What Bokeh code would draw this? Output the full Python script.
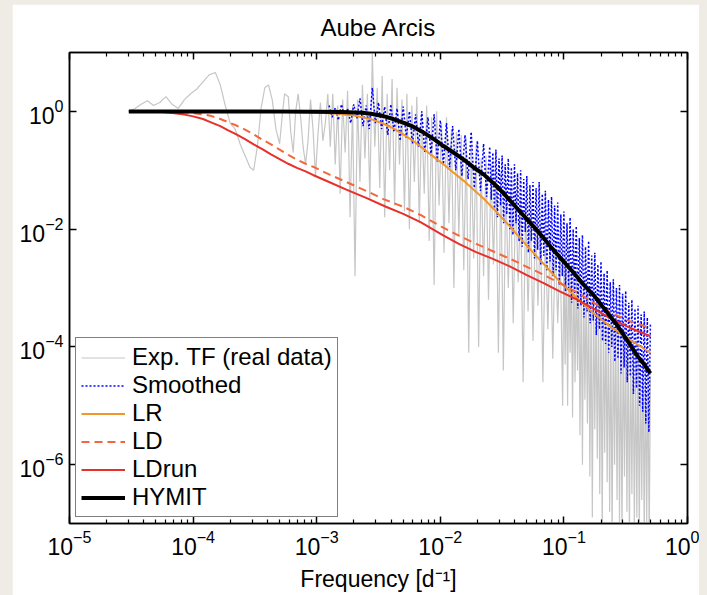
import numpy as np
from bokeh.plotting import figure
from bokeh.models import (FixedTicker, LogAxis, Legend, LegendItem, Range1d,
                          CustomJSTickFormatter)
from bokeh.embed import file_html
from bokeh.resources import INLINE

# ---------------- data (log10 frequency [1/d], log10 transfer function) ----------------
title_text = "Aube Arcis"
x_label = "Frequency [d\u207b\u00b9]"
x_tick_values = [1e-5, 1e-4, 1e-3, 1e-2, 1e-1, 1e0]
y_tick_values = [1e-6, 1e-4, 1e-2, 1e0]
series_names = ["Exp. TF (real data)", "Smoothed", "LR", "LD", "LDrun", "HYMIT"]

exp_tf = [
    (-4.52, 0.0), (-4.47, 0.05), (-4.42, 0.12), (-4.37, 0.18), (-4.32, 0.1), (-4.27, 0.15),
    (-4.22, 0.25), (-4.17, 0.12), (-4.12, 0.05), (-4.07, 0.2), (-4.02, 0.3), (-3.97, 0.38),
    (-3.92, 0.5), (-3.87, 0.62), (-3.82, 0.66), (-3.78, 0.45), (-3.74, 0.1), (-3.70, -0.2),
    (-3.66, -0.3), (-3.62, -0.55), (-3.58, -0.75), (-3.54, -0.95), (-3.51, -1.0), (-3.48, -0.6),
    (-3.45, 0.05), (-3.42, 0.4), (-3.39, 0.45), (-3.36, 0.2), (-3.33, -0.3), (-3.30, -0.55),
    (-3.28, -0.1), (-3.26, 0.3), (-3.23, 0.25), (-3.21, -0.35), (-3.19, -0.7), (-3.17, 0.0),
    (-3.15, 0.3), (-3.13, -0.1), (-3.11, -0.6), (-3.09, -0.9), (-3.07, -0.5), (-3.05, 0.2),
    (-3.03, -0.3), (-3.01, -1.1), (-2.99, -0.4), (-2.97, 0.15), (-2.95, -0.5), (-2.93, -0.2),
    (-2.91, 0.3), (-2.89, -0.6),
    (-2.87, 0.3), (-2.85, -0.9), (-2.83, 0.1), (-2.81, -1.4), (-2.79, 0.2), (-2.77, -0.7),
    (-2.75, 0.35), (-2.73, -1.8), (-2.71, 0.1), (-2.69, -2.8), (-2.67, 0.2), (-2.65, -1.2),
    (-2.63, 0.45), (-2.61, -0.8), (-2.59, 0.3), (-2.57, -1.5), (-2.55, 1.0), (-2.53, -0.6),
    (-2.51, 0.4), (-2.49, -1.3), (-2.47, 0.6), (-2.45, -1.8), (-2.43, 0.3), (-2.41, -1.0),
    (-2.39, 0.55), (-2.37, -1.6), (-2.35, 0.4), (-2.33, -0.9), (-2.31, 0.2), (-2.29, -1.7),
    (-2.27, 0.3), (-2.25, -2.0), (-2.23, 0.1), (-2.21, -1.2), (-2.19, 0.25), (-2.17, -1.9),
    (-2.15, 0.0), (-2.13, -1.4), (-2.11, 0.1), (-2.09, -2.2), (-2.07, -0.1), (-2.05, -2.95),
    (-2.03, 0.0), (-2.01, -1.6), (-1.99, -0.2), (-1.97, -2.4), (-1.95, -0.1), (-1.93, -1.9),
    (-1.91, -0.3), (-1.89, -3.0), (-1.87, -0.35), (-1.85, -2.1), (-1.83, -0.4), (-1.81, -2.7),
    (-1.79, -0.45), (-1.77, -4.1), (-1.75, -0.6), (-1.73, -2.5), (-1.71, -0.55), (-1.69, -4.0),
    (-1.67, -0.8), (-1.65, -2.8), (-1.63, -0.75), (-1.61, -3.2), (-1.59, -0.9), (-1.57, -2.6),
    (-1.55, -1.0), (-1.53, -4.1), (-1.51, -1.05), (-1.49, -4.4), (-1.47, -1.2), (-1.45, -3.0),
    (-1.43, -1.3), (-1.41, -3.6), (-1.39, -1.35), (-1.37, -2.9), (-1.35, -1.5), (-1.33, -4.6),
    (-1.31, -1.55), (-1.29, -3.4), (-1.27, -1.7), (-1.25, -3.9), (-1.23, -1.75), (-1.21, -3.3),
    (-1.19, -1.9), (-1.17, -4.6), (-1.15, -2.0), (-1.13, -3.7), (-1.11, -2.05), (-1.09, -4.2),
    (-1.07, -2.2), (-1.05, -3.6), (-1.03, -2.3), (-1.01, -5.0),
    (-1.00, -2.4), (-0.99, -4.3), (-0.98, -2.5), (-0.97, -5.0), (-0.96, -2.3), (-0.95, -4.1),
    (-0.94, -2.6), (-0.93, -5.2), (-0.92, -2.5), (-0.91, -4.6), (-0.90, -2.8), (-0.89, -4.4),
    (-0.88, -2.7), (-0.87, -5.5), (-0.86, -2.9), (-0.85, -6.0), (-0.84, -2.8), (-0.83, -4.9),
    (-0.82, -3.1), (-0.81, -5.3), (-0.80, -3.0), (-0.79, -6.2), (-0.78, -3.2), (-0.77, -6.9),
    (-0.76, -3.1), (-0.75, -5.4), (-0.74, -3.3), (-0.73, -5.9), (-0.72, -3.2), (-0.71, -6.5),
    (-0.70, -3.4), (-0.69, -7.2), (-0.68, -3.3), (-0.67, -5.8), (-0.66, -3.5), (-0.65, -6.3),
    (-0.64, -3.4), (-0.63, -6.8), (-0.62, -3.6), (-0.61, -7.3), (-0.60, -3.5), (-0.59, -6.0),
    (-0.58, -3.7), (-0.57, -6.6), (-0.56, -3.6), (-0.55, -7.0), (-0.54, -3.8), (-0.53, -7.2),
    (-0.52, -3.7), (-0.51, -6.2), (-0.50, -3.9), (-0.49, -6.8), (-0.48, -3.8), (-0.47, -7.3),
    (-0.46, -4.0), (-0.45, -6.5), (-0.44, -3.9), (-0.43, -7.1), (-0.42, -4.1), (-0.41, -6.9),
    (-0.40, -4.0), (-0.39, -7.3), (-0.38, -4.2), (-0.37, -6.6), (-0.36, -4.1), (-0.35, -7.3),
    (-0.34, -4.3), (-0.33, -7.0), (-0.32, -4.2), (-0.31, -7.3), (-0.30, -4.5),
]

smoothed = [
    (-2.9, 0.1), (-2.875, -0.1), (-2.85, 0.06), (-2.825, -0.15), (-2.8, 0.12), (-2.775, -0.08),
    (-2.75, 0.05), (-2.725, -0.2), (-2.7, 0.12), (-2.675, -0.12), (-2.65, 0.22), (-2.625, -0.25),
    (-2.6, 0.1), (-2.575, -0.3), (-2.55, 0.4), (-2.525, -0.2), (-2.5, 0.15), (-2.475, -0.3),
    (-2.45, 0.08), (-2.425, -0.4), (-2.4, 0.12), (-2.375, -0.35), (-2.35, 0.05), (-2.325, -0.5),
    (-2.3, 0.08), (-2.275, -0.45), (-2.25, 0.0), (-2.225, -0.55), (-2.2, -0.05), (-2.175, -0.6),
    (-2.15, 0.0), (-2.125, -0.7), (-2.1, -0.1), (-2.075, -0.75), (-2.05, -0.05), (-2.025, -0.85),
    (-2.0, -0.15), (-1.975, -0.9), (-1.95, -0.2), (-1.925, -0.95), (-1.9, -0.25), (-1.875, -1.0),
    (-1.85, -0.3), (-1.825, -1.1), (-1.8, -0.4), (-1.775, -1.15), (-1.75, -0.35), (-1.725, -1.3),
    (-1.7, -0.5), (-1.675, -1.35), (-1.65, -0.55), (-1.625, -1.45),
    (-1.6, -0.6), (-1.5875, -1.5), (-1.575, -0.7), (-1.5625, -1.65), (-1.55, -0.65), (-1.5375, -1.8),
    (-1.525, -0.8), (-1.5125, -1.6), (-1.5, -0.75), (-1.4875, -1.9), (-1.475, -0.9), (-1.4625, -1.75),
    (-1.45, -0.8), (-1.4375, -2.0), (-1.425, -0.95), (-1.4125, -2.1), (-1.4, -0.9), (-1.3875, -1.9),
    (-1.375, -1.05), (-1.3625, -2.2), (-1.35, -1.0), (-1.3375, -2.3), (-1.325, -1.15), (-1.3125, -2.05),
    (-1.3, -1.1), (-1.2875, -2.4), (-1.275, -1.25), (-1.2625, -2.2), (-1.25, -1.2), (-1.2375, -2.5),
    (-1.225, -1.3), (-1.2125, -2.35), (-1.2, -1.2), (-1.1875, -2.6), (-1.175, -1.4), (-1.1625, -2.45),
    (-1.15, -1.35), (-1.1375, -2.7), (-1.125, -1.5), (-1.1125, -2.55), (-1.1, -1.45), (-1.0875, -2.8),
    (-1.075, -1.6), (-1.0625, -2.7), (-1.05, -1.55), (-1.0375, -2.95), (-1.025, -1.75), (-1.0125, -2.8),
    (-1.0, -1.7), (-0.9875, -3.05), (-0.975, -1.9), (-0.9625, -3.0), (-0.95, -1.8), (-0.9375, -3.25),
    (-0.925, -2.0), (-0.9125, -3.1), (-0.9, -1.95), (-0.8875, -3.35), (-0.875, -2.15), (-0.8625, -3.3),
    (-0.85, -2.1), (-0.8375, -3.5), (-0.825, -2.3), (-0.8125, -3.4), (-0.8, -2.2), (-0.7875, -3.6),
    (-0.775, -2.45), (-0.7625, -3.55), (-0.75, -2.4), (-0.7375, -3.8), (-0.725, -2.6), (-0.7125, -3.7),
    (-0.7, -2.55), (-0.6875, -3.9), (-0.675, -2.75), (-0.6625, -3.95), (-0.65, -2.7), (-0.6375, -4.1),
    (-0.625, -2.9), (-0.6125, -4.0), (-0.6, -2.85), (-0.5875, -4.25), (-0.575, -3.0), (-0.5625, -4.2),
    (-0.55, -2.95), (-0.5375, -4.45), (-0.525, -3.1), (-0.5125, -4.35), (-0.5, -3.05), (-0.4875, -4.6),
    (-0.475, -3.25), (-0.4625, -4.5), (-0.45, -3.2), (-0.4375, -4.8), (-0.425, -3.35), (-0.4125, -4.7),
    (-0.4, -3.3), (-0.3875, -5.0), (-0.375, -3.45), (-0.3625, -5.1), (-0.35, -3.4), (-0.3375, -5.3),
    (-0.325, -3.5), (-0.3125, -5.45), (-0.3, -3.6),
]

lr = [
    (-4.52, 0.0), (-3.5, -0.005), (-3.0, -0.02), (-2.8, -0.045), (-2.7, -0.07), (-2.63, -0.1),
    (-2.55, -0.14), (-2.46, -0.21), (-2.38, -0.29), (-2.3, -0.39), (-2.22, -0.5), (-2.14, -0.63),
    (-2.06, -0.76), (-1.98, -0.89), (-1.9, -1.03), (-1.81, -1.18), (-1.73, -1.33), (-1.65, -1.48),
    (-1.54, -1.72), (-1.43, -1.97), (-1.3, -2.28), (-1.16, -2.6), (-1.03, -2.9), (-0.89, -3.18),
    (-0.76, -3.43), (-0.62, -3.66), (-0.45, -3.9), (-0.3, -4.1),
]

ld = [
    (-4.52, 0.0), (-4.3, 0.0), (-4.2, -0.005), (-4.1, -0.015), (-4.0, -0.03), (-3.92, -0.05),
    (-3.85, -0.08), (-3.78, -0.13), (-3.72, -0.18), (-3.65, -0.24), (-3.58, -0.31), (-3.51, -0.39),
    (-3.44, -0.48), (-3.37, -0.56), (-3.30, -0.65), (-3.23, -0.74), (-3.16, -0.82), (-3.09, -0.89),
    (-3.03, -0.94), (-2.9, -1.07), (-2.76, -1.2), (-2.6, -1.35), (-2.46, -1.49), (-2.3, -1.62),
    (-2.16, -1.76), (-1.98, -1.97), (-1.85, -2.11), (-1.71, -2.25), (-1.57, -2.38), (-1.43, -2.51),
    (-1.3, -2.64), (-1.16, -2.78), (-1.03, -2.92), (-0.89, -3.08), (-0.76, -3.25), (-0.62, -3.42),
    (-0.46, -3.57), (-0.3, -3.68),
]

ldrun = [
    (-4.52, 0.0), (-4.35, -0.003), (-4.25, -0.012), (-4.15, -0.03), (-4.07, -0.055), (-4.0, -0.085),
    (-3.92, -0.13), (-3.85, -0.19), (-3.78, -0.25), (-3.72, -0.32), (-3.65, -0.39), (-3.58, -0.47),
    (-3.51, -0.56), (-3.44, -0.64), (-3.37, -0.73), (-3.30, -0.81), (-3.23, -0.89), (-3.16, -0.96),
    (-3.09, -1.02), (-3.03, -1.08), (-2.9, -1.2), (-2.76, -1.33), (-2.6, -1.47), (-2.44, -1.62),
    (-2.3, -1.74), (-2.16, -1.88), (-1.98, -2.1), (-1.85, -2.25), (-1.71, -2.39), (-1.57, -2.51),
    (-1.43, -2.64), (-1.3, -2.78), (-1.16, -2.92), (-1.03, -3.06), (-0.89, -3.2), (-0.76, -3.35),
    (-0.62, -3.52), (-0.46, -3.68), (-0.3, -3.82),
]

hymit = [
    (-4.52, 0.0), (-3.5, 0.0), (-3.0, -0.005), (-2.8, -0.01), (-2.63, -0.025), (-2.55, -0.045),
    (-2.46, -0.08), (-2.38, -0.13), (-2.3, -0.19), (-2.22, -0.26), (-2.15, -0.34), (-2.06, -0.46),
    (-1.98, -0.58), (-1.9, -0.69), (-1.81, -0.82), (-1.73, -0.95), (-1.65, -1.07), (-1.57, -1.22),
    (-1.48, -1.41), (-1.39, -1.62), (-1.3, -1.83), (-1.2, -2.06), (-1.11, -2.29), (-1.02, -2.51),
    (-0.93, -2.72), (-0.85, -2.92), (-0.76, -3.12), (-0.67, -3.36), (-0.57, -3.63), (-0.49, -3.88),
    (-0.41, -4.14), (-0.35, -4.3), (-0.3, -4.45),
]


def unpack(points):
    arr = np.array(points, dtype=float)
    return 10.0 ** arr[:, 0], 10.0 ** arr[:, 1]


FONT = "Liberation Sans"
FS = "24px"
TICK_FS = "23px"

p = figure(width=687, height=591, x_axis_type="log", y_axis_type="log",
           x_range=Range1d(1e-5, 1.0), y_range=Range1d(1e-7, 10.0),
           output_backend="svg", toolbar_location=None,
           min_border_left=57, min_border_right=12, min_border_top=47, min_border_bottom=72)

p.background_fill_color = "white"
p.border_fill_color = "white"
p.outline_line_color = "black"
p.outline_line_width = 1.5
p.xgrid.visible = False
p.ygrid.visible = False

p.title.text = title_text
p.title.align = "center"
p.title.vertical_align = "top"
p.title.text_font = FONT
p.title.text_font_size = FS
p.title.text_font_style = "normal"
p.title.text_color = "black"
p.title.standoff = 19

x_minor = [k * 10.0 ** d for d in range(-5, 0) for k in range(2, 10)]
x_ticker = FixedTicker(ticks=x_tick_values, minor_ticks=x_minor)
y_ticker = FixedTicker(ticks=y_tick_values, minor_ticks=[])


def style_axis(ax, fs=TICK_FS):
    ax.axis_line_color = "black"
    ax.axis_line_width = 1.5
    ax.major_tick_line_color = "black"
    ax.major_tick_line_width = 1.5
    ax.minor_tick_line_color = "black"
    ax.minor_tick_line_width = 1.2
    ax.major_tick_in = 7
    ax.major_tick_out = 0
    ax.minor_tick_in = 4
    ax.minor_tick_out = 0
    ax.major_label_text_font = FONT
    ax.major_label_text_font_size = fs
    ax.major_label_text_color = "black"


xa = p.xaxis[0]
xa.ticker = x_ticker
style_axis(xa)
xa.major_label_standoff = 6
xa.axis_label = x_label
xa.axis_label_text_font = FONT
xa.axis_label_text_font_size = TICK_FS
xa.axis_label_text_font_style = "normal"
xa.axis_label_text_color = "black"
xa.axis_label_standoff = 8

ya = p.yaxis[0]
ya.ticker = y_ticker
style_axis(ya)
ya.major_label_standoff = 6

blank = CustomJSTickFormatter(code="return ''")
top_axis = LogAxis(ticker=FixedTicker(ticks=x_tick_values, minor_ticks=x_minor), formatter=blank)
style_axis(top_axis, fs="1px")
top_axis.major_label_standoff = 0
p.add_layout(top_axis, "above")
right_axis = LogAxis(ticker=FixedTicker(ticks=y_tick_values, minor_ticks=[]), formatter=blank)
style_axis(right_axis, fs="1px")
right_axis.major_label_standoff = 0
p.add_layout(right_axis, "right")

gx, gy = unpack(exp_tf)
r_exp = p.line(gx, gy, line_color="#c6c6c6", line_width=1.2)
sx, sy = unpack(smoothed)
r_sm = p.line(sx, sy, line_color="#0000ff", line_width=1.5, line_dash="2 2")
lx, ly = unpack(lr)
r_lr = p.line(lx, ly, line_color="#f0962a", line_width=2)
dx, dy = unpack(ld)
r_ld = p.line(dx, dy, line_color="#f2683a", line_width=2, line_dash="8 5")
rx, ry = unpack(ldrun)
r_ldrun = p.line(rx, ry, line_color="#e8302a", line_width=2)
hx, hy = unpack(hymit)
r_hy = p.line(hx, hy, line_color="black", line_width=4)

renderers = [r_exp, r_sm, r_lr, r_ld, r_ldrun, r_hy]
legend = Legend(items=[LegendItem(label=n, renderers=[r]) for n, r in zip(series_names, renderers)],
                location="bottom_left")
legend.margin = 6
legend.padding = 5
legend.spacing = 0
legend.glyph_width = 44
legend.glyph_height = 27
legend.label_height = 27
legend.label_standoff = 7
legend.label_text_font = FONT
legend.label_text_font_size = FS
legend.label_text_color = "black"
legend.border_line_color = "black"
legend.border_line_width = 1.5
legend.background_fill_color = "white"
legend.background_fill_alpha = 1.0
p.add_layout(legend)

html = file_html(p, INLINE, title=title_text)
html = html.replace(
    "</head>",
    "<style>html,body{background-color:#eeece4 !important;}"
    "body{margin:0 !important;padding:4px 0 0 12px !important;}</style></head>", 1)
open("out.html", "w").write(html)
